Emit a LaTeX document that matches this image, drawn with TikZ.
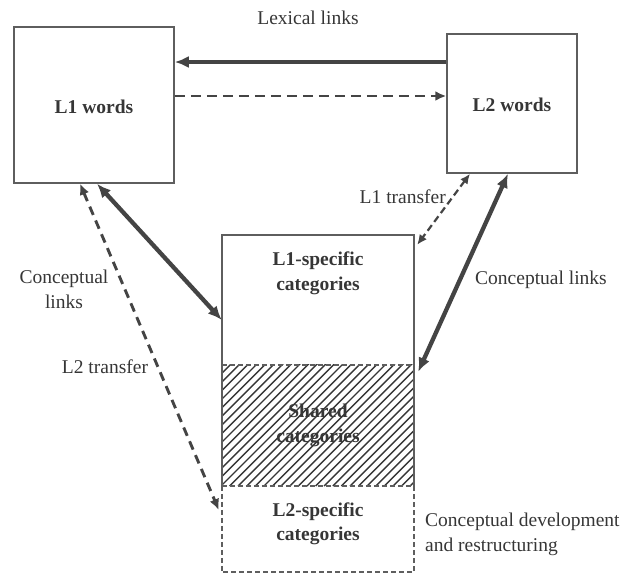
\documentclass[tikz,border=0pt]{standalone}
\usepackage{fontspec}
\setmainfont{Liberation Serif}
\usetikzlibrary{arrows.meta,calc}

\definecolor{ink}{HTML}{363636}
\definecolor{linegray}{HTML}{444444}
\definecolor{boxgray}{HTML}{5E5E5E}

\tikzset{
  lbl/.style={text=ink, font=\fontsize{19.5}{24.5}\selectfont, inner sep=0pt},
  boxlbl/.style={lbl, font=\fontsize{19.5}{24.5}\selectfont\bfseries, align=center},
  wordbox/.style={draw=boxgray, line width=1.5pt, inner sep=0pt},
  part/.style={inner sep=0pt, minimum width=192pt},
  solidlink/.style={draw=linegray, line width=4.3pt,
    -{Latex[length=14pt,width=12pt]}},
  solidboth/.style={draw=linegray, line width=4.3pt,
    {Latex[length=14pt,width=12pt]}-{Latex[length=14pt,width=12pt]}},
  dashlink/.style={draw=linegray, line width=2.9pt, dash pattern=on 10pt off 6pt,
    -{Latex[length=11pt,width=10pt]}},
  dashboth/.style={draw=linegray, line width=2.9pt, dash pattern=on 9pt off 6pt,
    {Latex[length=11pt,width=10pt]}-{Latex[length=11pt,width=10pt]}},
  thindashboth/.style={draw=linegray, line width=2.2pt, dash pattern=on 7pt off 4pt,
    {Latex[length=10pt,width=9pt]}-{Latex[length=10pt,width=9pt]}},
  edgesolid/.style={draw=boxgray, line width=1.5pt},
  edgedash/.style={draw=boxgray, line width=1.5pt, dash pattern=on 5pt off 3pt},
  hatchline/.style={draw=ink, line width=1.4pt}
}

\begin{document}
\begin{tikzpicture}[x=1pt, y=-1pt]
  \useasboundingbox (0,0) rectangle (624,573);

  % word stores
  \node[wordbox, minimum width=160pt, minimum height=156pt] (l1) at (94,105) {};
  \node[boxlbl] (l1t) at (94,107) {L1 words};
  \node[wordbox, minimum width=130pt, minimum height=139pt] (l2) at (512,103.5) {};
  \node[boxlbl] (l2t) at (512,105) {L2 words};

  % conceptual store, three stacked parts
  \node[part, minimum height=130pt] (l1sec) at (318,300) {};
  \node[part, minimum height=121pt] (shared) at (318,425.5) {};
  \node[part, minimum height=86pt] (l2sec) at (318,529) {};

  \node[boxlbl] (l1sect) at (318,273.5) {L1-specific\\categories};
  \node[boxlbl] (sharedt) at (318,425.5) {Shared\\categories};
  \node[boxlbl] (l2sect) at (318,524) {L2-specific\\categories};

  % hatching over the shared part
  \begin{scope}
    \clip (shared.north west) rectangle (shared.south east);
    \foreach \i in {0,...,40}
      \draw[hatchline] (92+\i*8.6,486) -- ++(135,-135);
  \end{scope}

  % outlines of the conceptual store
  \draw[edgesolid] (shared.north west) -- (l1sec.north west)
    -- (l1sec.north east) -- (shared.north east);
  \draw[edgesolid] (shared.north west) -- (shared.south west);
  \draw[edgesolid] (shared.north east) -- (shared.south east);
  \draw[edgedash] (shared.north west) -- (shared.north east);
  \draw[edgedash] (shared.south west) -- (shared.south east);
  \draw[edgedash] (l2sec.north west) -- (l2sec.south west)
    -- (l2sec.south east) -- (l2sec.north east);

  % heights of the lexical links
  \coordinate (lexA) at (0,62);
  \coordinate (lexB) at (0,96);

  % lexical links
  \draw[solidlink] (l2.west |- lexA) -- (l1.east |- lexA);
  \draw[dashlink] (l1.east |- lexB) -- (l2.west |- lexB);

  % conceptual links and transfer
  \draw[solidboth] ([xshift=3pt]l1.south) -- ([yshift=-20pt]l1sec.west);
  \draw[dashboth] ([xshift=-14pt]l1.south) -- ([xshift=-3pt,yshift=19pt]l2sec.west);
  \draw[thindashboth] ([xshift=-42pt]l2.south) -- ([xshift=3pt,yshift=-10pt]l1sec.north east);
  \draw[solidboth] ([xshift=-4pt]l2.south) -- ([xshift=4pt,yshift=-7pt]shared.north east);

  % labels
  \node[lbl] (lexlbl) at (308,18) {Lexical links};
  \node[lbl, anchor=east] (l1tr) at (446,197) {L1 transfer};
  \node[lbl, align=center] (cll) at (64,289.5) {Conceptual\\links};
  \node[lbl] (l2tr) at (105,367) {L2 transfer};
  \node[lbl, anchor=west] (clr) at (475,280) {Conceptual links};
  \node[lbl, anchor=west, align=left] (cdev) at (425,534.5)
    {Conceptual development\\and restructuring};
\end{tikzpicture}
\end{document}
